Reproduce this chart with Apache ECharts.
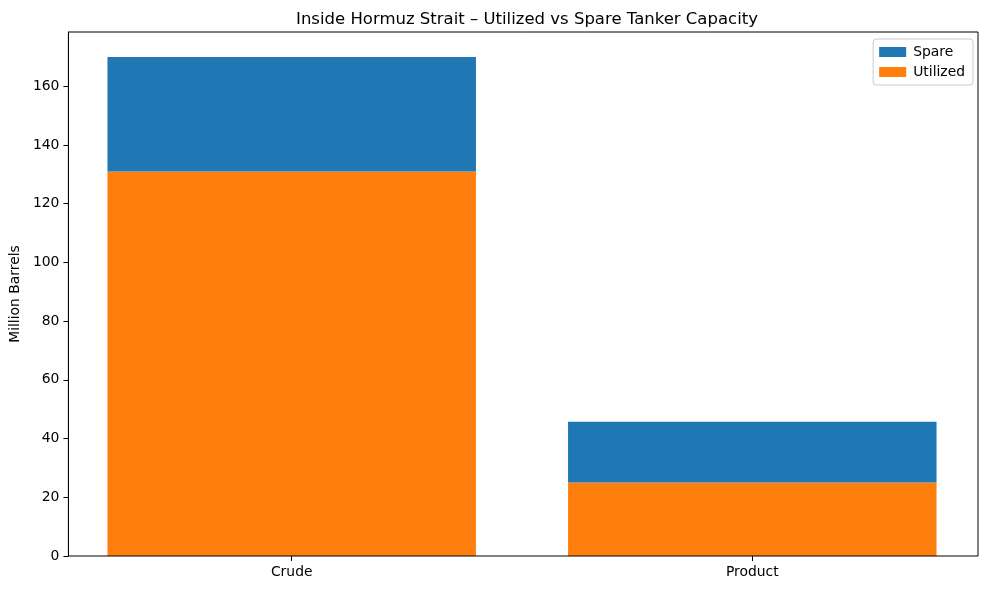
<!DOCTYPE html>
<html>
<head>
<meta charset="utf-8">
<script src="https://cdn.jsdelivr.net/npm/echarts@6/dist/echarts.min.js"></script>
<style>html,body{margin:0;padding:0;background:#fff;}#c{width:989px;height:590px;}</style>
</head>
<body>
<div id="c"></div>
<script>
const categories = ['Crude', 'Product'];
const utilized = [131, 25];
const spare = [39, 20.7];
const yTicks = [0, 20, 40, 60, 80, 100, 120, 140, 160];
const yMax = 178.5;
const titleText = 'Inside Hormuz Strait \u2013 Utilized vs Spare Tanker Capacity';

const font = 'DejaVu Sans';
const chart = echarts.init(document.getElementById('c'), null, {renderer: 'canvas'});
chart.setOption({
  animation: false,
  backgroundColor: '#fff',
  textStyle: {fontFamily: font},
  title: {
    text: titleText, left: 522, top: 6, textAlign: 'center',
    textStyle: {fontFamily: font, fontSize: 16.5, fontWeight: 'normal', color: '#000'}
  },
  legend: {
    data: ['Spare', 'Utilized'], orient: 'vertical', right: 16, top: 39,
    icon: 'rect', itemWidth: 27, itemHeight: 10, itemGap: 6,
    padding: [6, 8, 6, 6], borderColor: '#cccccc', borderWidth: 1, borderRadius: 3,
    backgroundColor: 'rgba(255,255,255,0.8)',
    textStyle: {fontFamily: font, fontSize: 13.9, color: '#000', padding: [0, 0, 0, 2]}
  },
  grid: [
    {left: 66, right: 11, top: 32, bottom: 34, show: true, borderColor: '#000', borderWidth: 1, backgroundColor: 'transparent', z: 10},
    {left: 61.4, right: 6.4, top: 32, bottom: 34}
  ],
  xAxis: [
    {gridIndex: 0, type: 'value', min: 0, max: 1, show: false},
    {gridIndex: 1, type: 'category', data: categories,
     axisLine: {show: false},
     axisTick: {show: true, alignWithLabel: true, length: 5, lineStyle: {color: '#000', width: 1}},
     axisLabel: {fontFamily: font, fontSize: 13.9, color: '#000', margin: 9}}
  ],
  yAxis: [
    {gridIndex: 0, type: 'value', min: 0, max: yMax,
     name: 'Million Barrels', nameLocation: 'middle', nameGap: 43,
     nameTextStyle: {fontFamily: font, fontSize: 13.9, color: '#000'},
     splitLine: {show: false},
     axisLine: {show: true, lineStyle: {color: '#000', width: 1}},
     axisTick: {show: true, length: 5, customValues: yTicks, lineStyle: {color: '#000', width: 1}},
     axisLabel: {fontFamily: font, fontSize: 13.9, color: '#000', margin: 9, customValues: yTicks}},
    {gridIndex: 1, type: 'value', min: 0, max: yMax, show: false, splitLine: {show: false}}
  ],
  series: [
    {name: 'Utilized', type: 'bar', stack: 'cap', xAxisIndex: 1, yAxisIndex: 1,
     barWidth: '80%', itemStyle: {color: '#ff7f0e'}, data: utilized},
    {name: 'Spare', type: 'bar', stack: 'cap', xAxisIndex: 1, yAxisIndex: 1,
     barWidth: '80%', itemStyle: {color: '#1f77b4'}, data: spare}
  ]
});
</script>
</body>
</html>
